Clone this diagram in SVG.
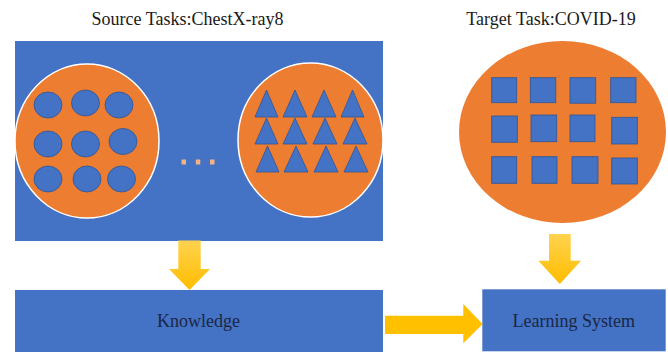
<svg xmlns="http://www.w3.org/2000/svg" width="668" height="352" viewBox="0 0 668 352">
<defs>
<linearGradient id="gv" x1="0" y1="0" x2="0" y2="1">
<stop offset="0" stop-color="#FFD34F"/>
<stop offset="1" stop-color="#FFBD00"/>
</linearGradient>
<style>
.title{font-family:"Liberation Serif","Times New Roman",serif;font-size:18px;fill:#1a1a1a;text-anchor:middle}
.lbl{font-family:"Liberation Serif","Times New Roman",serif;font-size:18px;fill:#1b2744;text-anchor:middle}
.box{fill:#4472C4}
.big{fill:#ED7D31;stroke:#FFFFFF;stroke-width:1.5}
.tgt{fill:#ED7D31}
.s{fill:#4472C4;stroke:#2F5597;stroke-width:0.8}
.dot{fill:#F4B183}
.arr{fill:url(#gv)}
.arrh{fill:#FFC000}
</style>
</defs>
<text class="title" x="187.5" y="25">Source Tasks:ChestX-ray8</text>
<text class="title" x="551" y="25">Target Task:COVID-19</text>
<g id="source">
<rect class="box" x="15" y="41" width="368" height="200"/>
<ellipse class="big" cx="87" cy="141" rx="72" ry="77"/>
<ellipse class="s" cx="48" cy="105" rx="14" ry="13"/>
<ellipse class="s" cx="85.5" cy="103" rx="14" ry="13"/>
<ellipse class="s" cx="119" cy="105" rx="14" ry="13"/>
<ellipse class="s" cx="48" cy="144" rx="14" ry="13"/>
<ellipse class="s" cx="85.5" cy="144" rx="14" ry="13"/>
<ellipse class="s" cx="123" cy="141.5" rx="14" ry="13"/>
<ellipse class="s" cx="48" cy="179" rx="14" ry="13"/>
<ellipse class="s" cx="87" cy="179" rx="14" ry="13"/>
<ellipse class="s" cx="121.5" cy="179" rx="14" ry="13"/>
<rect class="dot" x="181.5" y="159.5" width="4.5" height="5"/>
<rect class="dot" x="195.8" y="159.5" width="4.5" height="5"/>
<rect class="dot" x="210" y="159.5" width="4.5" height="5"/>
<ellipse class="big" cx="310.5" cy="140" rx="72.5" ry="77"/>
<polygon class="s" points="255,117 266.5,90 278,117"/>
<polygon class="s" points="283,117 295,90 307,117"/>
<polygon class="s" points="312,117 324,90 336,117"/>
<polygon class="s" points="341,117 352.5,90 364,117"/>
<polygon class="s" points="255,144 266.5,118 278,144"/>
<polygon class="s" points="283,144 295,118 307,144"/>
<polygon class="s" points="313,144 325,118 337,144"/>
<polygon class="s" points="343,144 355,118 367,144"/>
<polygon class="s" points="256,172 267.5,146 279,172"/>
<polygon class="s" points="284,172 296,146 308,172"/>
<polygon class="s" points="314,172 326,146 338,172"/>
<polygon class="s" points="344,172 356,146 368,172"/>
</g>
<g id="target">
<ellipse class="tgt" cx="562.5" cy="132" rx="103.5" ry="91"/>
<rect class="s" x="491.7" y="77.7" width="25" height="25"/>
<rect class="s" x="530.3" y="77.7" width="25.5" height="25"/>
<rect class="s" x="570" y="77.7" width="25.7" height="25.5"/>
<rect class="s" x="610.7" y="77.7" width="25.3" height="25"/>
<rect class="s" x="491.7" y="116" width="25.6" height="26.3"/>
<rect class="s" x="531" y="115" width="25.7" height="26.7"/>
<rect class="s" x="570" y="115" width="25" height="26.7"/>
<rect class="s" x="611.7" y="117.3" width="25.6" height="26.7"/>
<rect class="s" x="491.7" y="156.7" width="25" height="26.6"/>
<rect class="s" x="532" y="156.7" width="25" height="26.6"/>
<rect class="s" x="572" y="156.7" width="26" height="26.6"/>
<rect class="s" x="611.7" y="158" width="25.6" height="26"/>
</g>
<g id="knowledge">
<rect class="box" x="15" y="290" width="368" height="62"/>
<text class="lbl" x="198.5" y="327">Knowledge</text>
</g>
<g id="learning">
<rect class="box" x="482.3" y="289.3" width="183.4" height="62"/>
<text class="lbl" x="573.7" y="327">Learning System</text>
</g>
<g id="connectors">
<polygon class="arr" points="178.3,240.5 200.7,240.5 200.7,269 210,269 189.5,290 169,269 178.3,269"/>
<polygon class="arr" points="549,234 570.7,234 570.7,260.7 581,260.7 559.8,284 538.3,260.7 549,260.7"/>
<polygon class="arrh" points="385,315.7 463.3,315.7 463.3,304 482.7,324 463.3,343.3 463.3,334 385,334"/>
</g>
</svg>
